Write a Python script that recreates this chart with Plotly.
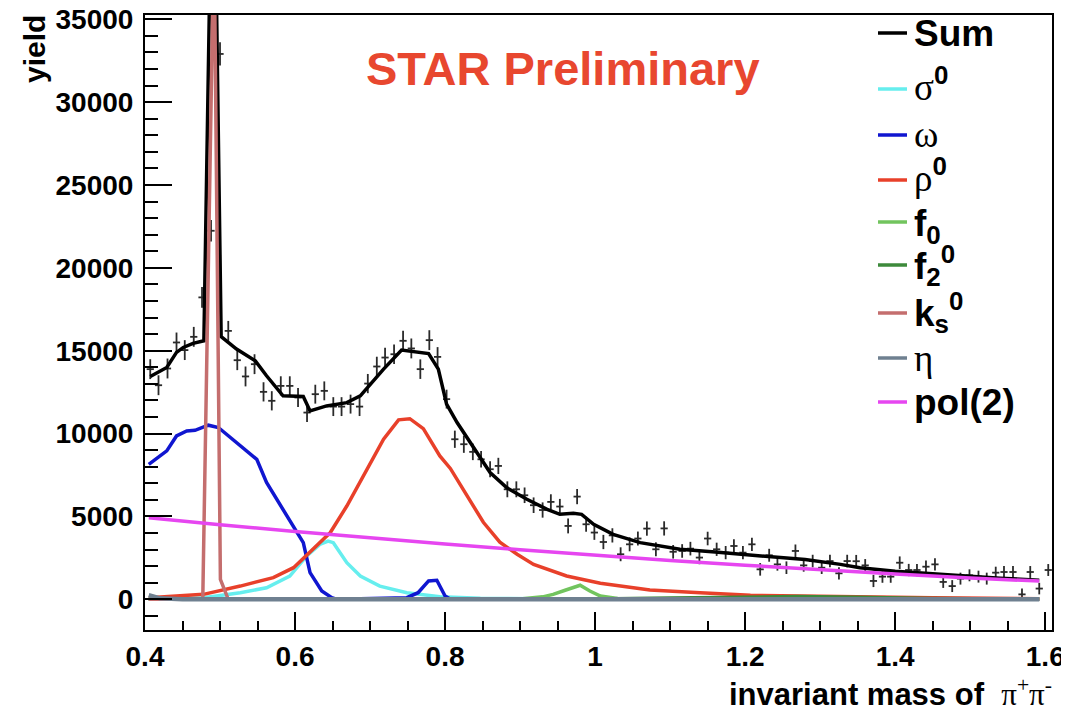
import plotly.graph_objects as go

# ---------------- data ----------------
data_x = [0.407, 0.418, 0.430, 0.442, 0.453, 0.465, 0.476, 0.488, 0.500, 0.511,
          0.523, 0.534, 0.546, 0.558, 0.569, 0.581, 0.593, 0.604, 0.616, 0.627,
          0.639, 0.651, 0.662, 0.674, 0.686, 0.697, 0.709, 0.720, 0.732, 0.744,
          0.755, 0.767, 0.779, 0.790, 0.802, 0.813, 0.825, 0.837, 0.848, 0.860,
          0.871, 0.883, 0.895, 0.906, 0.918, 0.930, 0.941, 0.953, 0.964, 0.976,
          0.988, 0.999, 1.011, 1.023, 1.034, 1.046, 1.057, 1.069, 1.081, 1.092,
          1.104, 1.116, 1.127, 1.139, 1.150, 1.162, 1.174, 1.185, 1.197, 1.209,
          1.220, 1.232, 1.243, 1.255, 1.267, 1.278, 1.290, 1.302, 1.313, 1.325,
          1.336, 1.348, 1.360, 1.371, 1.383, 1.394, 1.406, 1.418, 1.429, 1.441,
          1.453, 1.464, 1.476, 1.487, 1.499, 1.511, 1.522, 1.534, 1.545, 1.557,
          1.569, 1.580, 1.592, 1.604]
data_y = [13890, 12920, 13930, 15500, 15040, 15840, 18220, 22240, 32910, 16200,
          14430, 13450, 14190, 12520, 11980, 12880, 12880, 12180, 11270, 12380,
          12580, 11630, 11630, 11780, 11630, 13020, 14050, 14590, 14790, 15600,
          15140, 13890, 15640, 14630, 12080, 9660, 9360, 8900, 8450, 7850,
          8050, 6640, 6640, 6280, 5680, 5390, 5880, 5600, 4430, 6200,
          4530, 4030, 3460, 3860, 2720, 3320, 3670, 4270, 3020, 4280,
          2870, 2920, 3060, 2520, 3670, 3020, 2820, 3220, 2820, 3320,
          1810, 2660, 2110, 1910, 2920, 2050, 2310, 1910, 2310, 1570,
          2310, 2300, 2050, 1110, 1370, 1370, 2210, 1770, 1770, 1970,
          2110, 1050, 800, 1250, 1450, 1370, 1250, 1610, 1650, 1650,
          300, 1650, 650, 1770]
data_err = [600, 600, 600, 600, 600, 600, 620, 650, 700, 600,
            600, 600, 600, 580, 580, 580, 580, 580, 570, 570,
            570, 570, 570, 570, 570, 580, 590, 590, 590, 600,
            600, 590, 600, 590, 570, 520, 520, 500, 500, 490,
            490, 480, 480, 470, 470, 460, 460, 460, 450, 460,
            450, 440, 430, 430, 420, 420, 420, 430, 420, 430,
            410, 410, 410, 400, 410, 400, 400, 400, 400, 400,
            380, 390, 380, 380, 390, 380, 380, 380, 380, 370,
            380, 380, 380, 370, 370, 370, 380, 370, 370, 370,
            370, 360, 360, 360, 360, 360, 360, 360, 360, 360,
            350, 360, 350, 360]

sum_x = [0.407, 0.429, 0.442, 0.451, 0.464, 0.4785, 0.491, 0.5015, 0.522, 0.547,
         0.562, 0.584, 0.611, 0.620, 0.642, 0.669, 0.687, 0.700, 0.718, 0.742,
         0.753, 0.778, 0.791, 0.802, 0.816, 0.838, 0.860, 0.882, 0.909, 0.936,
         0.953, 0.971, 0.982, 0.998, 1.024, 1.060, 1.113, 1.160, 1.220, 1.280,
         1.327, 1.353, 1.400, 1.487, 1.540, 1.592]
sum_y = [13450, 13990, 14900, 15200, 15450, 15600, 50000, 15850, 15100, 14390,
         13490, 12280, 12240, 11370, 11670, 11870, 12280, 12950, 13890, 15040,
         14990, 14830, 13890, 11780, 10670, 9160, 7650, 6740, 6040, 5430,
         5130, 5190, 5130, 4530, 3920, 3420, 3020, 2850, 2650, 2400,
         2110, 1910, 1700, 1410, 1280, 1150]

sigma_x = [0.405, 0.45, 0.478, 0.527, 0.562, 0.593, 0.6156, 0.633, 0.644, 0.651,
           0.669, 0.687, 0.713, 0.749, 0.793, 0.847, 1.0, 1.592]
sigma_y = [30, 60, 100, 400, 700, 1400, 2620, 3320, 3520, 3420,
           2210, 1410, 800, 400, 160, 60, 10, 0]

omega_x = [0.405, 0.429, 0.442, 0.4556, 0.4667, 0.4844, 0.4978, 0.522, 0.549, 0.562,
           0.584, 0.600, 0.611, 0.620, 0.6356, 0.649, 0.656, 0.749, 0.764, 0.778,
           0.789, 0.800, 0.807, 1.592]
omega_y = [8150, 8960, 9860, 10160, 10200, 10510, 10370, 9460, 8450, 7050,
           5430, 4230, 3420, 1610, 500, 100, 0, 100, 400, 1110,
           1150, 200, 0, 0]

rho_x = [0.405, 0.478, 0.527, 0.571, 0.598, 0.624, 0.647, 0.669, 0.696, 0.718,
         0.738, 0.753, 0.771, 0.793, 0.807, 0.829, 0.851, 0.873, 0.896, 0.918,
         0.962, 1.007, 1.073, 1.14, 1.207, 1.273, 1.35, 1.45, 1.592]
rho_y = [100, 300, 800, 1310, 1910, 3020, 4030, 5630, 7850, 9660,
         10830, 10900, 10300, 8650, 7900, 6300, 4650, 3450, 2720, 2110,
         1410, 970, 560, 400, 240, 200, 140, 90, 40]

f0_x = [0.405, 0.90, 0.93, 0.944, 0.96, 0.98, 0.993, 1.007, 1.03, 1.10, 1.592]
f0_y = [0, 20, 150, 300, 550, 850, 500, 200, 50, 10, 0]

f2_x = [0.405, 1.0, 1.1, 1.2, 1.27, 1.35, 1.45, 1.592]
f2_y = [0, 20, 80, 150, 170, 120, 50, 20]

ks_x = [0.405, 0.477, 0.492, 0.5005, 0.511, 1.592]
ks_y = [0, 0, 40500, 1200, 0, 0]

eta_x = [0.405, 0.42, 0.45, 1.592]
eta_y = [250, 60, 0, 0]

pol_x = [0.405, 0.5, 0.6, 0.7, 0.8, 0.9, 1.0, 1.1, 1.2, 1.3, 1.4, 1.5, 1.592]
pol_y = [4930, 4500, 4100, 3710, 3340, 2990, 2660, 2350, 2060, 1780, 1530, 1290, 1100]

y_ticks = [0, 5000, 10000, 15000, 20000, 25000, 30000, 35000]

# ---------------- figure ----------------
SANS = "Liberation Sans"
SERIF = "Liberation Serif"

def greek(ch):
    return f"<span style='font-family:{SERIF};font-weight:normal'>{ch}</span>"

# page body has an 8px margin; the figure is sized so the plot frame lands at
# x 145..1052, y 15..630 of the 1069x711 window
FIG_W, FIG_H = 1061, 703
M_L, M_R, M_T, M_B = 137, 17, 7, 81
PW = FIG_W - M_L - M_R
PH = FIG_H - M_T - M_B


def px_x(x):
    return (x - 8 - M_L) / PW


def px_y(y):
    return (FIG_H - M_B - (y - 8)) / PH


fig = go.Figure()

fig.add_trace(go.Scatter(
    x=data_x, y=data_y, mode="markers", showlegend=False, name="data",
    marker=dict(size=1, color="#2a2a2a"),
    error_x=dict(type="constant", value=0.0048, thickness=1.8, width=0, color="#2a2a2a"),
    error_y=dict(type="data", array=data_err, thickness=1.8, width=0, color="#2a2a2a"),
))

curves = [
    ("Sum", sum_x, sum_y, "#000000", 3.5, "Sum", 33),
    ("sigma", sigma_x, sigma_y, "#66EEEE", 3.5, greek("σ") + "<sup>0</sup>", 89),
    ("omega", omega_x, omega_y, "#1016D0", 3.5, greek("ω"), 135),
    ("rho", rho_x, rho_y, "#E8402A", 3.5, greek("ρ") + "<sup>0</sup>", 180),
    ("f0", f0_x, f0_y, "#72C45E", 3.5, "f<sub>0</sub>", 222),
    ("f2", f2_x, f2_y, "#3D8A3B", 3.5, "f<sub>2</sub><sup>0</sup>", 265),
    ("ks", ks_x, ks_y, "#C46E6E", 3.5, "k<sub>s</sub><sup>0</sup>", 313),
    ("eta", eta_x, eta_y, "#6F8090", 4.5, greek("η"), 358),
    ("pol", pol_x, pol_y, "#E646F0", 3.5, "pol(2)", 402),
]

shapes = []
annotations = []
for key, xs, ys, col, w, label, ly in curves:
    fig.add_trace(go.Scatter(
        x=xs, y=ys, mode="lines", name=key, showlegend=False,
        line=dict(color=col, width=w),
    ))
    # legend entry (ROOT-style, no box)
    shapes.append(dict(type="line", xref="paper", yref="paper",
                       x0=px_x(878), x1=px_x(907), y0=px_y(ly), y1=px_y(ly),
                       line=dict(color=col, width=3.5)))
    has_sup = "<sup>" in label
    has_sub = "<sub>" in label
    shift = 0
    if has_sup and not has_sub:
        shift = 5
    elif has_sub and not has_sup:
        shift = -4
    annotations.append(dict(text=label, xref="paper", yref="paper",
                            x=px_x(912), y=px_y(ly), xanchor="left", yanchor="middle",
                            yshift=shift, showarrow=False,
                            font=dict(family=SANS, size=37, weight="bold", color="black")))

annotations += [
    dict(text="STAR Preliminary", xref="paper", yref="paper",
         x=px_x(563), y=px_y(68), xanchor="center", yanchor="middle", showarrow=False,
         font=dict(family=SANS, size=47, weight="bold", color="#E8472F")),
    dict(text="<b>yield</b>", xref="paper", yref="paper",
         x=px_x(34), y=px_y(13), xanchor="center", yanchor="top", showarrow=False,
         textangle=-90, font=dict(family=SANS, size=30, color="black")),
    dict(text="<b>invariant mass of</b>  <span style='font-family:Liberation Serif'>π<sup>+</sup>π<sup>-</sup></span>",
         xref="paper", yref="paper", x=px_x(1054), y=px_y(692), xanchor="right", yanchor="middle",
         showarrow=False, font=dict(family=SANS, size=31, color="black")),
]

fig.update_layout(
    width=FIG_W, height=FIG_H,
    margin=dict(l=M_L, r=M_R, t=M_T, b=M_B, autoexpand=False),
    paper_bgcolor="white", plot_bgcolor="white",
    font=dict(family=SANS, color="black"),
    showlegend=False,
    xaxis=dict(
        range=[0.4, 1.609], showgrid=False, zeroline=False, automargin=False,
        showline=True, linecolor="black", linewidth=2, mirror=True,
        ticks="inside", ticklen=18, tickwidth=2, tickcolor="black",
        tick0=0.4, dtick=0.2, ticklabeloverflow="allow",
        minor=dict(ticks="inside", ticklen=9, tickwidth=2, tickcolor="black", dtick=0.05, tick0=0.4),
        tickfont=dict(family=SANS, size=28, weight="bold", color="black"),
    ),
    yaxis=dict(
        range=[-1850, 35260], showgrid=False, zeroline=False, automargin=False,
        showline=True, linecolor="black", linewidth=2, mirror=True,
        ticks="inside", ticklen=27, tickwidth=2, tickcolor="black",
        tickvals=y_ticks, ticktext=[str(v) for v in y_ticks],
        ticklabelstandoff=4, ticklabeloverflow="allow",
        minor=dict(ticks="inside", ticklen=13, tickwidth=2, tickcolor="black", dtick=1000, tick0=0),
        tickfont=dict(family=SANS, size=28, weight="bold", color="black"),
    ),
    shapes=shapes,
    annotations=annotations,
)

fig.write_html("out.html")
